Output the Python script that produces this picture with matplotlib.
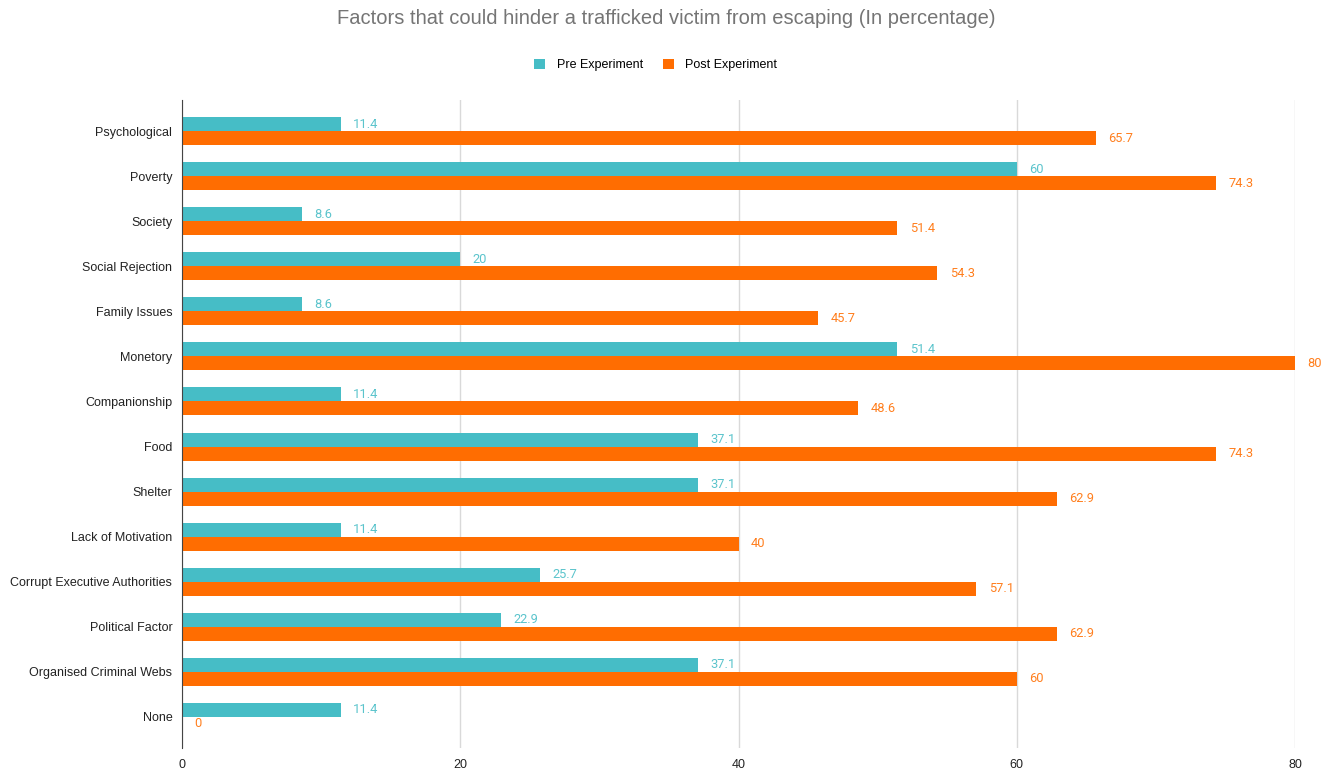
import matplotlib.pyplot as plt
import numpy as np

categories = ["Psychological", "Poverty", "Society", "Social Rejection", "Family Issues",
              "Monetory", "Companionship", "Food", "Shelter", "Lack of Motivation",
              "Corrupt Executive Authorities", "Political Factor", "Organised Criminal Webs", "None"]
pre = [11.4, 60, 8.6, 20, 8.6, 51.4, 11.4, 37.1, 37.1, 11.4, 25.7, 22.9, 37.1, 11.4]
post = [65.7, 74.3, 51.4, 54.3, 45.7, 80, 48.6, 74.3, 62.9, 40, 57.1, 62.9, 60, 0]
series_names = ["Pre Experiment", "Post Experiment"]
xticks = [0, 20, 40, 60, 80]

c_pre = "#46BDC6"
c_post = "#FF6D01"

plt.rcParams['font.family'] = ['Liberation Sans', 'DejaVu Sans']
fig = plt.figure(figsize=(13.33, 7.7), dpi=100)
ax = fig.add_axes([182/1333, 1-748/770, (1295-182)/1333, (748-100)/770])

y = np.arange(len(categories))
h = 0.31
b1 = ax.barh(y - h/2, pre, height=h, color=c_pre, label=series_names[0], zorder=3)
b2 = ax.barh(y + h/2, post, height=h, color=c_post, label=series_names[1], zorder=3)

for yi, v in zip(y, pre):
    ax.annotate(f"{v:g}", (v, yi - h/2), xytext=(9, 0), textcoords="offset points",
                va="center", ha="left", color="#5BC4CC", fontsize=9.3, family=['Roboto', 'DejaVu Sans'])
for yi, v in zip(y, post):
    ax.annotate(f"{v:g}", (v, yi + h/2), xytext=(9, 0), textcoords="offset points",
                va="center", ha="left", color="#FF7F1E", fontsize=9.3, family=['Roboto', 'DejaVu Sans'])

ax.set_ylim(13.69, -0.69)
ax.set_xlim(0, 80)
ax.set_yticks(y)
ax.set_yticklabels(categories, fontsize=9, color="#222222")
ax.set_xticks(xticks)
ax.set_xticklabels([str(t) for t in xticks], fontsize=9, color="#222222")
ax.tick_params(length=0, pad=8)
ax.tick_params(axis='y', pad=7)
ax.grid(axis='x', color="#D9D9D9", linewidth=1, zorder=0)
for s in ["top", "right", "bottom"]:
    ax.spines[s].set_visible(False)
ax.spines["left"].set_color("#444444")
ax.spines["left"].set_zorder(4)

fig.text(0.5, 1-18/770, "Factors that could hinder a trafficked victim from escaping (In percentage)",
         ha="center", va="center", fontsize=14.5, color="#757575")
fig.legend(handles=[b1, b2], labels=series_names, loc="center", bbox_to_anchor=(0.492, 1-65/770),
           ncol=2, frameon=False, fontsize=9, handlelength=0.9, handleheight=0.9,
           columnspacing=1.6, handletextpad=0.9)

fig.savefig("out.png", dpi=100)
